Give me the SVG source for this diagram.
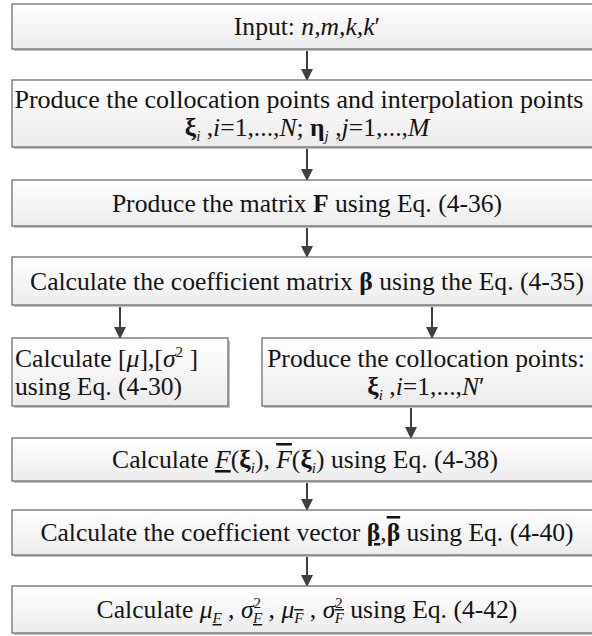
<svg xmlns="http://www.w3.org/2000/svg" width="592" height="636" viewBox="0 0 592 636">
<defs>
<linearGradient id="g" x1="0" y1="0" x2="0" y2="1">
<stop offset="0" stop-color="#ffffff"/>
<stop offset="1" stop-color="#ececec"/>
</linearGradient>
<marker id="ah" markerUnits="userSpaceOnUse" markerWidth="12" markerHeight="14" refX="11" refY="6" orient="auto">
<path d="M0,0 L12,6 L0,12 Z" fill="#404040"/>
</marker>
<style>
.sh{fill:#c4c4c4}
.bx{fill:url(#g);stroke:#6f6f6f;stroke-width:1.3}
.t{font-family:"Liberation Serif","Times New Roman",serif;font-size:25.6px;fill:#141414}
.c{text-anchor:middle}
.i{font-style:italic}
.b{font-weight:bold}
.s{font-size:15px}
.cn{stroke:#404040;stroke-width:2;fill:none;marker-end:url(#ah)}
</style>
</defs>

<g id="connectors">
<line class="cn" x1="307" y1="49" x2="307" y2="80"/>
<line class="cn" x1="307" y1="147" x2="307" y2="180"/>
<line class="cn" x1="307" y1="226" x2="307" y2="257"/>
<line class="cn" x1="120" y1="305" x2="120" y2="338"/>
<line class="cn" x1="432" y1="305" x2="432" y2="338"/>
<line class="cn" x1="411" y1="406" x2="411" y2="438"/>
<line class="cn" x1="307" y1="481" x2="307" y2="510"/>
<line class="cn" x1="307" y1="555" x2="307" y2="586"/>
</g>

<g id="n1">
<rect class="sh" x="14" y="7" width="590" height="44"/>
<rect class="bx" x="12" y="4" width="590" height="45"/>
<text class="t c" x="307" y="35">Input: <tspan class="i">n,m,k,k</tspan>′</text>
</g>

<g id="n2">
<rect class="sh" x="14" y="83" width="590" height="66"/>
<rect class="bx" x="12" y="80" width="590" height="67"/>
<text class="t c" x="299" y="108" style="font-size:26px">Produce the collocation points and interpolation points</text>
<text class="t c" x="307" y="136"><tspan class="b">ξ</tspan><tspan class="i s" dy="5">i</tspan><tspan dy="-5"> ,</tspan><tspan class="i">i</tspan>=1,...,<tspan class="i">N</tspan>;  <tspan class="b">η</tspan><tspan class="i s" dy="5">j</tspan><tspan dy="-5"> ,</tspan><tspan class="i">j</tspan>=1,...,<tspan class="i">M</tspan></text>
</g>

<g id="n3">
<rect class="sh" x="14" y="183" width="590" height="45"/>
<rect class="bx" x="12" y="180" width="590" height="46"/>
<text class="t c" x="307" y="212">Produce the matrix <tspan class="b">F</tspan> using Eq. (4-36)</text>
</g>

<g id="n4">
<rect class="sh" x="14" y="260" width="590" height="47"/>
<rect class="bx" x="12" y="257" width="590" height="48"/>
<text class="t c" x="307" y="290">Calculate the coefficient matrix <tspan class="b">β</tspan> using the Eq. (4-35)</text>
</g>

<g id="n5">
<rect class="sh" x="14" y="341" width="216" height="67"/>
<rect class="bx" x="12" y="338" width="216" height="68"/>
<text class="t" x="15" y="367">Calculate [<tspan class="i">μ</tspan>],[<tspan class="i">σ</tspan><tspan class="s" dy="-10">2</tspan><tspan dy="10"> ]</tspan></text>
<text class="t" x="15" y="395">using Eq. (4-30)</text>
</g>

<g id="n6">
<rect class="sh" x="264" y="341" width="340" height="67"/>
<rect class="bx" x="262" y="338" width="340" height="68"/>
<text class="t c" x="426" y="367">Produce the collocation points:</text>
<text class="t c" x="426" y="395"><tspan class="b">ξ</tspan><tspan class="i s" dy="5">i</tspan><tspan dy="-5"> ,</tspan><tspan class="i">i</tspan>=1,...,<tspan class="i">N</tspan>′</text>
</g>

<g id="n7">
<rect class="sh" x="14" y="441" width="590" height="42"/>
<rect class="bx" x="12" y="438" width="590" height="43"/>
<text class="t c" x="305" y="468">Calculate <tspan class="i" text-decoration="underline">F</tspan>(<tspan class="b">ξ</tspan><tspan class="i s" dy="5">i</tspan><tspan dy="-5">), </tspan><tspan class="i" text-decoration="overline">F</tspan>(<tspan class="b">ξ</tspan><tspan class="i s" dy="5">i</tspan><tspan dy="-5">) using Eq. (4-38)</tspan></text>
</g>

<g id="n8">
<rect class="sh" x="14" y="513" width="590" height="44"/>
<rect class="bx" x="12" y="510" width="590" height="45"/>
<text class="t c" x="307" y="541">Calculate the coefficient vector <tspan class="b" text-decoration="underline">β</tspan>,<tspan class="b" text-decoration="overline">β</tspan> using Eq. (4-40)</text>
</g>

<g id="n9">
<rect class="sh" x="14" y="589" width="590" height="46"/>
<rect class="bx" x="12" y="586" width="590" height="47"/>
<text class="t c" x="307" y="618">Calculate <tspan class="i">μ</tspan><tspan class="i s" dy="5" text-decoration="underline">F</tspan><tspan dy="-5"> , </tspan><tspan class="i">σ</tspan><tspan class="s" dy="-10">2</tspan><tspan class="i s" dx="-8" dy="15" text-decoration="underline">F</tspan><tspan dy="-5"> , </tspan><tspan class="i">μ</tspan><tspan class="i s" dy="5" text-decoration="overline">F</tspan><tspan dy="-5"> , </tspan><tspan class="i">σ</tspan><tspan class="s" dy="-10">2</tspan><tspan class="i s" dx="-8" dy="15" text-decoration="overline">F</tspan><tspan dy="-5"> using Eq. (4-42)</tspan></text>
</g>
</svg>
